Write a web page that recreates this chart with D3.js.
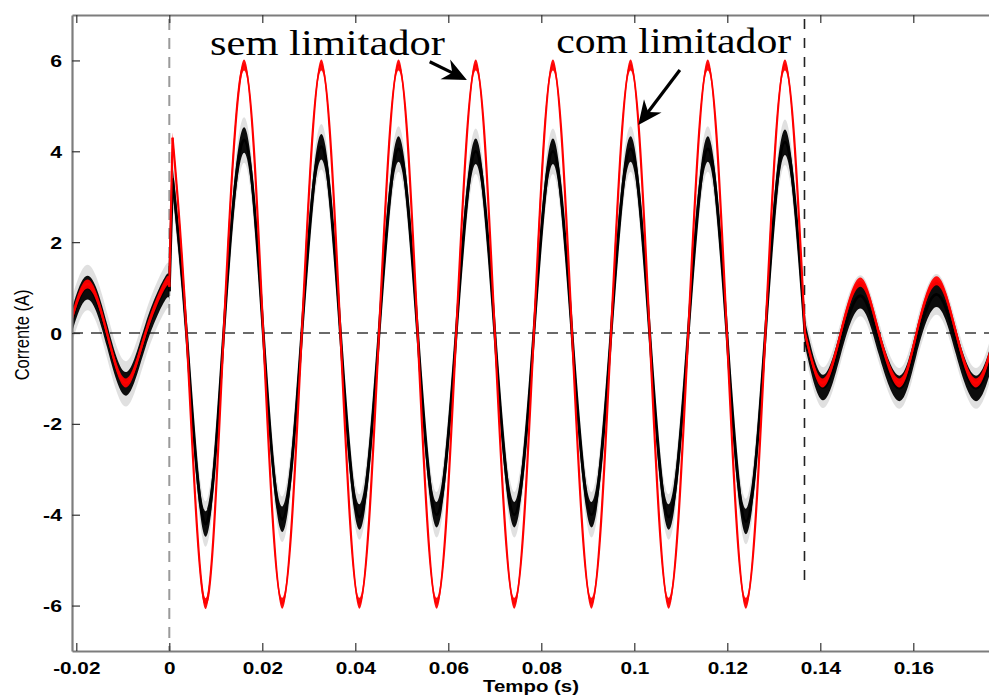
<!DOCTYPE html>
<html>
<head>
<meta charset="utf-8">
<script src="https://cdn.jsdelivr.net/npm/d3@7"></script>
<style>
  html, body { margin: 0; padding: 0; background: #fff; }
  svg { display: block; }
</style>
</head>
<body>
<svg id="chart" width="989" height="697"></svg>
<script>
// ---------------- DATA ----------------
const xTicks = [-0.02, 0, 0.02, 0.04, 0.06, 0.08, 0.1, 0.12, 0.14, 0.16];
const xTickLabels = ["-0.02", "0", "0.02", "0.04", "0.06", "0.08", "0.1", "0.12", "0.14", "0.16"];
const yTicks = [-6, -4, -2, 0, 2, 4, 6];
const yTickLabels = ["-6", "-4", "-2", "0", "2", "4", "6"];

// pre-fault segment (s) and current (A)
const tPre = [-0.0218, -0.0176, -0.0134, -0.0093, -0.0051, -0.0009, 0.0];
const redPre = [0.0, 1.08, 0.0, -1.1, 0.0, 1.08, 1.02];
const blackPre = [-0.05, 1.0, -0.05, -1.12, -0.05, 0.98, 0.92];

// fault segment: extrema and zero crossings
const tFault = [0.0007, 0.0037, 0.0077, 0.0117, 0.0161, 0.0202, 0.0243, 0.0285, 0.0327, 0.0368,
                0.0409, 0.0451, 0.0493, 0.0534, 0.0575, 0.0617, 0.0659, 0.0700, 0.0742, 0.0784,
                0.0825, 0.0866, 0.0908, 0.0950, 0.0992, 0.1033, 0.1074, 0.1116, 0.1158, 0.1199,
                0.1240, 0.1282, 0.1324, 0.1367];
const redFault = [4.3, 0, -5.95, 0, 5.9, 0, -5.95, 0, 5.9, 0,
                  -5.95, 0, 5.9, 0, -5.95, 0, 5.9, 0, -5.95, 0,
                  5.9, 0, -5.95, 0, 5.9, 0, -5.95, 0, 5.9, 0,
                  -5.95, 0, 5.9, 0];
const blackFault = [3.4, 0, -4.2, 0, 4.25, 0, -4.1, 0, 4.1, 0,
                    -4.05, 0, 4.05, 0, -4.0, 0, 4.0, 0, -4.0, 0,
                    4.0, 0, -4.0, 0, 4.05, 0, -4.05, 0, 4.05, 0,
                    -4.15, 0, 4.2, 0];

// post-fault segment
const tPost = [0.1367, 0.1405, 0.1444, 0.1486, 0.1526, 0.1570, 0.1607, 0.1650, 0.1692, 0.1735, 0.1776];
const redPost = [0, -1.1, 0, 1.12, 0, -1.1, 0, 1.15, 0, -1.1, 0];
const blackPost = [0, -1.2, -0.2, 0.82, -0.2, -1.22, -0.2, 0.85, -0.2, -1.22, -0.2];

// measurement noise half-width (A) per segment: pre, fault, post
const redNoise = [0.1, 0.12, 0.1];
const blackNoise = [0.26, 0.28, 0.28];
const blackSpikes = [0.5, 0.5, 0.45];

// fault instants (s)
const faultStart = 0;
const faultEnd = 0.1366;

// annotations (data coordinates)
const labelSem = { text: "sem limitador", t: 0.00875, v: 6.12, t0: 0.0560, v0: 5.97, t1: 0.0640, v1: 5.57 };
const labelCom = { text: "com limitador", t: 0.0832, v: 6.16, t0: 0.1098, v0: 5.79, t1: 0.10086, v1: 4.58 };

// ---------------- CHART ----------------
const svg = d3.select("#chart");
const L = 72, R = 995, T = 15, B = 651;

const x = d3.scaleLinear().domain([-0.020925, 0.17757]).range([L, R]);
const y = d3.scaleLinear().domain([-7, 7]).range([B, T]);

svg.append("defs").append("clipPath").attr("id", "clip")
  .append("rect").attr("x", L).attr("y", T).attr("width", R - L).attr("height", B - T);

const plot = svg.append("g").attr("clip-path", "url(#clip)");

// reference dashed lines
plot.append("line")
  .attr("x1", L).attr("x2", R).attr("y1", y(0)).attr("y2", y(0))
  .attr("stroke", "#3a3a3a").attr("stroke-width", 1.4).attr("stroke-dasharray", "11,8");
plot.append("line")
  .attr("x1", x(faultStart)).attr("x2", x(faultStart)).attr("y1", T + 4).attr("y2", B)
  .attr("stroke", "#9a9a9a").attr("stroke-width", 2).attr("stroke-dasharray", "11,8");
plot.append("line")
  .attr("x1", x(faultEnd)).attr("x2", x(faultEnd)).attr("y1", T + 4).attr("y2", y(-5.6))
  .attr("stroke", "#222").attr("stroke-width", 1.6).attr("stroke-dasharray", "10,9");

function segs(pre, fault, post) {
  const zip = (ts, vs) => ts.map((t, i) => ({ t, v: vs[i] }));
  const a = zip(tPre, pre), b = zip(tFault, fault), c = zip(tPost, post);
  return {
    curved: [a, b, c],
    jump: [a[a.length - 1], b[0]]
  };
}

const lineN = d3.line().curve(d3.curveNatural).x(d => x(d.t)).y(d => y(d.v));
const lineL = d3.line().x(d => x(d.t)).y(d => y(d.v));
const areaN = n => d3.area().curve(d3.curveNatural).x(d => x(d.t))
  .y0(d => y(d.v - n)).y1(d => y(d.v + n));
const areaL = n => d3.area().x(d => x(d.t)).y0(d => y(d.v - n)).y1(d => y(d.v + n));

function drawSeries(s, color, noise, spikes, lw) {
  const g = plot.append("g");
  if (spikes) {
    s.curved.forEach((seg, i) => {
      g.append("path").attr("d", areaN(spikes[i])(seg)).attr("fill", color).attr("opacity", 0.12);
    });
    g.append("path").attr("d", areaL(spikes[0])(s.jump)).attr("fill", color).attr("opacity", 0.12);
  }
  s.curved.forEach((seg, i) => {
    g.append("path").attr("d", areaN(noise[i])(seg)).attr("fill", color).attr("opacity", 0.95);
  });
  s.curved.forEach(seg => {
    g.append("path").attr("d", lineN(seg)).attr("fill", "none")
      .attr("stroke", color).attr("stroke-width", lw).attr("stroke-linejoin", "round");
  });
  g.append("path").attr("d", lineL(s.jump)).attr("fill", "none")
    .attr("stroke", color).attr("stroke-width", lw);
}

drawSeries(segs(blackPre, blackFault, blackPost), "#000", blackNoise, blackSpikes, 2.8);
drawSeries(segs(redPre, redFault, redPost), "#ff0000", redNoise, null, 2.2);

// ---------------- AXES ----------------
const axisColor = "#7d7d7d";
const fontAxis = "'Liberation Sans', Arial, Helvetica, sans-serif";

const xAxis = svg.append("g").attr("transform", `translate(0,${B})`)
  .call(d3.axisBottom(x).tickValues(xTicks).tickFormat((d, i) => xTickLabels[i])
    .tickSizeInner(-8).tickSizeOuter(0));
xAxis.selectAll("text").attr("y", 23).attr("dy", 0)
  .attr("transform", "scale(1.22,1)")
  .style("font-family", fontAxis).style("font-weight", "bold").style("font-size", "17px")
  .attr("fill", "#000");

const xTop = svg.append("g").attr("transform", `translate(0,${T})`)
  .call(d3.axisTop(x).tickValues(xTicks).tickFormat("").tickSizeInner(-8).tickSizeOuter(0));

const yAxis = svg.append("g").attr("transform", `translate(${L},0)`)
  .call(d3.axisLeft(y).tickValues(yTicks).tickFormat((d, i) => yTickLabels[i])
    .tickSizeInner(-8).tickSizeOuter(0));
yAxis.selectAll("text").attr("x", 0).attr("dy", "0.36em")
  .attr("transform", "translate(-10,0) scale(1.25,1)")
  .style("font-family", fontAxis).style("font-weight", "bold").style("font-size", "17px")
  .attr("fill", "#000");

[xAxis, xTop, yAxis].forEach(a => {
  a.select(".domain").attr("stroke", axisColor).attr("stroke-width", 2.2);
  a.selectAll(".tick line").attr("stroke", "#333").attr("stroke-width", 1.2);
});

// axis titles
svg.append("text")
  .attr("transform", `translate(29,${(T + B) / 2 + 2}) scale(1.2,1) rotate(-90)`)
  .attr("text-anchor", "middle")
  .style("font-family", fontAxis).style("font-size", "16.5px")
  .attr("fill", "#000")
  .text("Corrente (A)");

svg.append("text")
  .attr("transform", `translate(531,692) scale(1.2,1)`)
  .attr("text-anchor", "middle")
  .style("font-family", fontAxis).style("font-weight", "bold").style("font-size", "17px")
  .attr("fill", "#000")
  .text("Tempo (s)");

// ---------------- ANNOTATIONS ----------------
function annotate(a) {
  svg.append("text")
    .attr("x", x(a.t)).attr("y", y(a.v))
    .attr("textLength", 235).attr("lengthAdjust", "spacingAndGlyphs")
    .style("font-family", "'Liberation Serif', 'Times New Roman', serif")
    .style("font-size", "36px").attr("fill", "#000")
    .text(a.text);
  const sx = x(a.t0), sy = y(a.v0), tx = x(a.t1), ty = y(a.v1);
  const dx = tx - sx, dy = ty - sy, len = Math.hypot(dx, dy);
  const ux = dx / len, uy = dy / len, nx = -uy, ny = ux;
  const H = 24, W = 11;
  svg.append("line")
    .attr("x1", sx).attr("y1", sy)
    .attr("x2", tx - ux * H * 0.6).attr("y2", ty - uy * H * 0.6)
    .attr("stroke", "#000").attr("stroke-width", 3.2);
  const pts = [
    [tx, ty],
    [tx - ux * H + nx * W, ty - uy * H + ny * W],
    [tx - ux * H * 0.68, ty - uy * H * 0.68],
    [tx - ux * H - nx * W, ty - uy * H - ny * W]
  ];
  svg.append("polygon").attr("points", pts.map(p => p.join(",")).join(" ")).attr("fill", "#000");
}
annotate(labelSem);
annotate(labelCom);
</script>
</body>
</html>
